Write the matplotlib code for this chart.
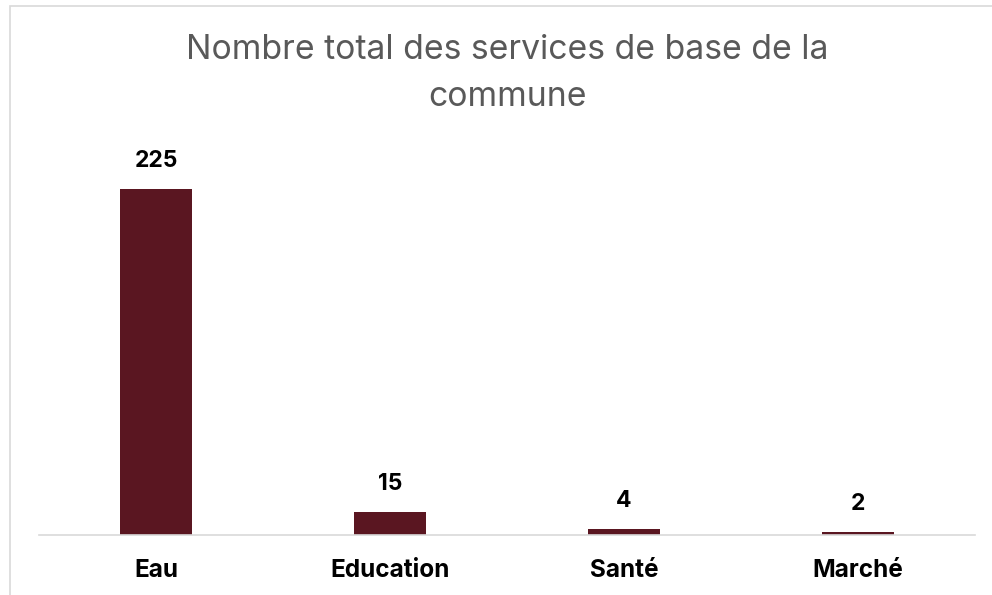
import matplotlib.pyplot as plt
from matplotlib.patches import Rectangle

categories = ['Eau', 'Education', 'Santé', 'Marché']
values = [225, 15, 4, 2]

plt.rcParams['font.family'] = ['Inter', 'DejaVu Sans']

fig = plt.figure(figsize=(9.92, 5.95), dpi=100)
fig.patches.append(Rectangle((10/992, -0.1), 1.2, 1.1 - 6/595, transform=fig.transFigure,
                             fill=False, edgecolor='#d9d9d9', linewidth=1.2))

ax = fig.add_axes([39/992, 60/595, 936/992, 384.5/595])
x = range(len(categories))
bars = ax.bar(x, values, width=0.31, color='#5A1621')
ax.set_xlim(-0.5, len(categories) - 0.5)
ax.set_ylim(0, 250)

for b, v in zip(bars, values):
    ax.annotate(str(v), (b.get_x() + b.get_width() / 2, v), xytext=(0, 12),
                textcoords='offset points', ha='center', va='bottom',
                fontsize=16.5, fontweight='bold', color='black')

ax.set_xticks(list(x))
ax.set_xticklabels(categories, fontsize=17.5, fontweight='bold')
ax.tick_params(axis='x', length=0, pad=17)
ax.set_yticks([])
for s in ['top', 'left', 'right']:
    ax.spines[s].set_visible(False)
ax.spines['bottom'].set_color('#d9d9d9')
ax.spines['bottom'].set_linewidth(1.2)

fig.text(507/992, 1 - 50/595, 'Nombre total des services de base de la', ha='center', va='center',
         fontsize=24.3, color='#595959')
fig.text(507/992, 1 - 97/595, 'commune', ha='center', va='center', fontsize=24.3, color='#595959')

fig.savefig('out.png', dpi=100)
